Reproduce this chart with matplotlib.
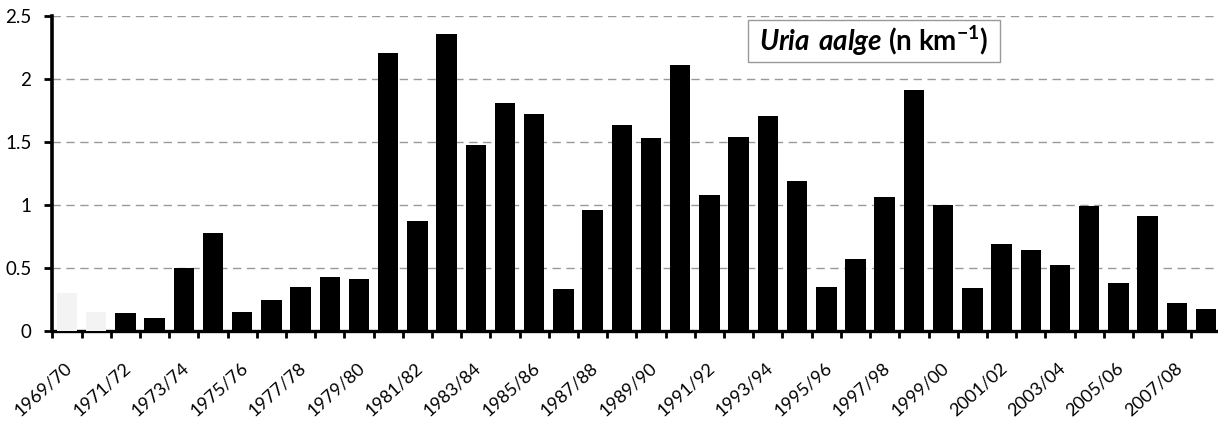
import numpy as np
import matplotlib
matplotlib.use("Agg")
import matplotlib.pyplot as plt
from matplotlib.ticker import FixedLocator
from matplotlib.patches import Rectangle

plt.rcParams['font.family'] = ['Lato', 'DejaVu Sans']
plt.rcParams['mathtext.fontset'] = 'custom'
plt.rcParams['mathtext.rm'] = 'Lato:bold'
plt.rcParams['mathtext.bf'] = 'Lato:bold'
plt.rcParams['mathtext.bfit'] = 'Lato:bold:italic'

# seasons 1969/70 .. 2008/09
seasons = ["%d/%02d" % (y, (y + 1) % 100) for y in range(1969, 2009)]
values = [0.30, 0.15, 0.14, 0.10, 0.50, 0.78, 0.15, 0.25, 0.35, 0.43,
          0.415, 2.21, 0.87, 2.355, 1.48, 1.81, 1.72, 0.33, 0.96, 1.635,
          1.53, 2.11, 1.08, 1.54, 1.71, 1.19, 0.35, 0.57, 1.065, 1.915,
          1.0, 0.34, 0.69, 0.64, 0.52, 0.99, 0.38, 0.91, 0.225, 0.172]
# first two seasons are drawn almost white in the original
faint = [True, True] + [False] * 38

fig = plt.figure(figsize=(12.18, 4.22), dpi=100)
ax = fig.add_axes([52.3 / 1218, 1 - 331 / 422, 1168.3 / 1218, 315 / 422])

x = np.arange(len(values))
colors = ['#f3f3f3' if f else 'black' for f in faint]
ax.bar(x, values, width=0.7, color=colors, zorder=3)

ax.set_xlim(-0.5, len(values) - 0.5)
ax.set_ylim(0, 2.5)
ax.set_yticks([0, 0.5, 1, 1.5, 2, 2.5])
ax.set_yticklabels(['0', '0.5', '1', '1.5', '2', '2.5'], fontsize=13.5)
ax.yaxis.grid(True, linestyle=(0, (6, 4)), color='#999999', linewidth=1.0)
ax.set_axisbelow(True)

# labels every second season
ax.tick_params(axis='x', which='major', length=0, pad=20.5)
ax.tick_params(axis='x', which='minor', length=5, width=2, direction='out')
ax.tick_params(axis='y', length=6, width=2, pad=9)
ax.set_xticks(x[::2] - 0.08)
ax.set_xticklabels(seasons[::2], rotation=42, ha='right', va='top',
                   rotation_mode='anchor', fontsize=13)
ax.xaxis.set_minor_locator(FixedLocator(np.arange(-0.5, len(values), 1)))

for s in ['top', 'right']:
    ax.spines[s].set_visible(False)
ax.spines['left'].set_linewidth(2.6)
ax.spines['bottom'].set_linewidth(2.4)

# species label in a thin grey box
ax.add_patch(Rectangle((0.5955, 0.854), 0.2157, 0.1333, transform=ax.transAxes,
                       fc='white', ec='#999999', lw=1, zorder=4))
ax.text(0.703, 0.921, r"$\mathbfit{Uria\ aalge}$ (n km$^{\mathbf{-1}}$)",
        transform=ax.transAxes, ha='center', va='center', fontsize=20,
        fontweight='bold', zorder=5)

fig.savefig('out.png', dpi=100)
